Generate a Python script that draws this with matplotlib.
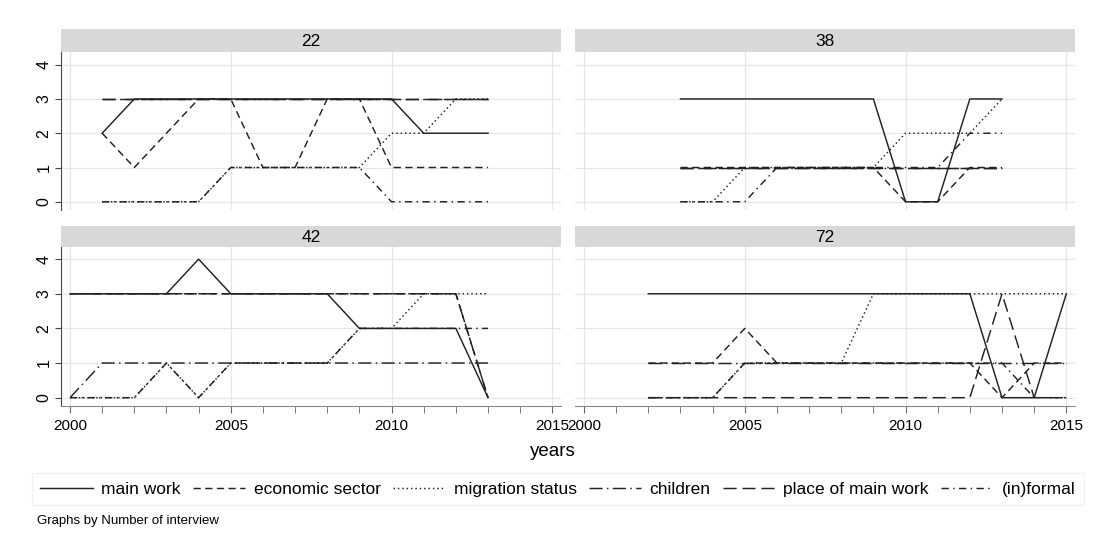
import numpy as np
import matplotlib.pyplot as plt
from matplotlib.ticker import MultipleLocator

plt.rcParams['font.family'] = ['Liberation Sans', 'DejaVu Sans']

nan = np.nan
years = list(range(2000, 2016))

# interview 22
main_22 = [nan, 2, 3, 3, 3, 3, 3, 3, 3, 3, 3, 2, 2, 2, nan, nan]
econ_22 = [nan, 2, 1, 2, 3, 3, 1, 1, 3, 3, 1, 1, 1, 1, nan, nan]
migr_22 = [nan, 0, 0, 0, 0, 1, 1, 1, 1, 1, 2, 2, 3, 3, nan, nan]
child_22 = [nan, 3, 3, 3, 3, 3, 3, 3, 3, 3, 3, 3, 3, 3, nan, nan]
place_22 = [nan, 3, 3, 3, 3, 3, 3, 3, 3, 3, 3, 3, 3, 3, nan, nan]
informal_22 = [nan, 0, 0, 0, 0, 1, 1, 1, 1, 1, 0, 0, 0, 0, nan, nan]

# interview 38
main_38 = [nan, nan, nan, 3, 3, 3, 3, 3, 3, 3, 0, 0, 3, 3, nan, nan]
econ_38 = [nan, nan, nan, 1, 1, 1, 1, 1, 1, 1, 0, 0, 1, 1, nan, nan]
migr_38 = [nan, nan, nan, 0, 0, 1, 1, 1, 1, 1, 2, 2, 2, 3, nan, nan]
child_38 = [nan, nan, nan, 1, 1, 1, 1, 1, 1, 1, 1, 1, 1, 1, nan, nan]
place_38 = [nan, nan, nan, 1, 1, 1, 1, 1, 1, 1, 1, 1, 1, 1, nan, nan]
informal_38 = [nan, nan, nan, 0, 0, 0, 1, 1, 1, 1, 1, 1, 2, 2, nan, nan]

# interview 42
main_42 = [3, 3, 3, 3, 4, 3, 3, 3, 3, 2, 2, 2, 2, 0, nan, nan]
econ_42 = [3, 3, 3, 3, 3, 3, 3, 3, 3, 3, 3, 3, 3, 0, nan, nan]
migr_42 = [0, 0, 0, 1, 0, 1, 1, 1, 1, 2, 2, 3, 3, 3, nan, nan]
child_42 = [0, 1, 1, 1, 1, 1, 1, 1, 1, 1, 1, 1, 1, 1, nan, nan]
place_42 = [3, 3, 3, 3, 3, 3, 3, 3, 3, 3, 3, 3, 3, 0, nan, nan]
informal_42 = [0, 0, 0, 1, 0, 1, 1, 1, 1, 2, 2, 2, 2, 2, nan, nan]

# interview 72
main_72 = [nan, nan, 3, 3, 3, 3, 3, 3, 3, 3, 3, 3, 3, 0, 0, 3]
econ_72 = [nan, nan, 1, 1, 1, 2, 1, 1, 1, 1, 1, 1, 1, 0, 1, 1]
migr_72 = [nan, nan, 0, 0, 0, 1, 1, 1, 1, 3, 3, 3, 3, 3, 3, 3]
child_72 = [nan, nan, 1, 1, 1, 1, 1, 1, 1, 1, 1, 1, 1, 1, 1, 1]
place_72 = [nan, nan, 0, 0, 0, 0, 0, 0, 0, 0, 0, 0, 0, 3, 0, 0]
informal_72 = [nan, nan, 0, 0, 0, 1, 1, 1, 1, 1, 1, 1, 1, 1, 0, 0]

labels = ["main work", "economic sector", "migration status",
          "children", "place of main work", "(in)formal"]
dashes = [None, (5, 3), (1, 2), (9, 3, 1, 3), (9, 4), (5, 3, 1, 3)]

panels = {
    "22": [main_22, econ_22, migr_22, child_22, place_22, informal_22],
    "38": [main_38, econ_38, migr_38, child_38, place_38, informal_38],
    "42": [main_42, econ_42, migr_42, child_42, place_42, informal_42],
    "72": [main_72, econ_72, migr_72, child_72, place_72, informal_72],
}

W, H = 1096, 549
fig = plt.figure(figsize=(W / 100, H / 100), dpi=100)

def box(x0, y0, x1, y1):
    return [x0 / W, 1 - y1 / H, (x1 - x0) / W, (y1 - y0) / H]

# pixel boxes: plot area and strip for each panel
layout = {
    "22": ((61, 52, 561, 210), (61, 29, 561, 52), 0, 0),
    "38": ((575, 52, 1075, 210), (575, 29, 1075, 52), 1, 0),
    "42": ((61, 247, 561, 406), (61, 226, 561, 247), 0, 1),
    "72": ((575, 247, 1075, 406), (575, 226, 1075, 247), 1, 1),
}

handles = []
for name, series in panels.items():
    pbox, sbox, col, row = layout[name]
    ax = fig.add_axes(box(*pbox))
    for vals, ls, lab in zip(series, dashes, labels):
        line, = ax.plot(years, vals, color="#222222", lw=1.05, label=lab)
        if ls is not None:
            line.set_dashes(ls)
        if name == "22":
            handles.append(line)
    ax.set_xlim(1999.72, 2015.27)
    ax.set_ylim(-0.24, 4.37 if row == 0 else 4.35)
    ax.set_xticks([2000, 2005, 2010, 2015])
    ax.xaxis.set_minor_locator(MultipleLocator(1))
    ax.set_yticks([0, 1, 2, 3, 4])
    ax.grid(True, color="#e6e6e6", lw=0.9)
    ax.set_axisbelow(True)
    for s in ("top", "right"):
        ax.spines[s].set_visible(False)
    ax.spines["left"].set_visible(col == 0)
    ax.spines["bottom"].set_visible(row == 1)
    ax.spines["left"].set_color("#444444")
    ax.spines["bottom"].set_color("#888888")
    ax.tick_params(axis="y", left=(col == 0), labelleft=(col == 0),
                   length=4, color="#444444", labelsize=11.5, pad=3)
    for t in ax.get_yticklabels():
        t.set_rotation(90)
        t.set_va("center")
    ax.tick_params(axis="x", which="both", bottom=(row == 1),
                   labelbottom=(row == 1), length=5, color="#666666",
                   labelsize=11, pad=4)

    st = fig.add_axes(box(*sbox))
    st.set_facecolor("#d8d8d8")
    st.set_xticks([])
    st.set_yticks([])
    for s in st.spines.values():
        s.set_visible(False)
    st.text(0.5, 0.45, name, ha="center", va="center", fontsize=12.5,
            transform=st.transAxes)

fig.text(553 / W, 1 - 452 / H, "years", ha="center", va="center", fontsize=13.5)

fig.legend(handles, labels, ncol=6, loc="center",
           bbox_to_anchor=(558 / W, 1 - 489 / H),
           fontsize=12.5, handlelength=3.0, handletextpad=0.5,
           columnspacing=0.7, frameon=True, fancybox=False,
           edgecolor="#eeeeee", borderpad=0.5)

fig.text(37 / W, 1 - 521 / H, "Graphs by Number of interview",
         ha="left", va="center", fontsize=9.5)

fig.savefig("out.png", dpi=100)
